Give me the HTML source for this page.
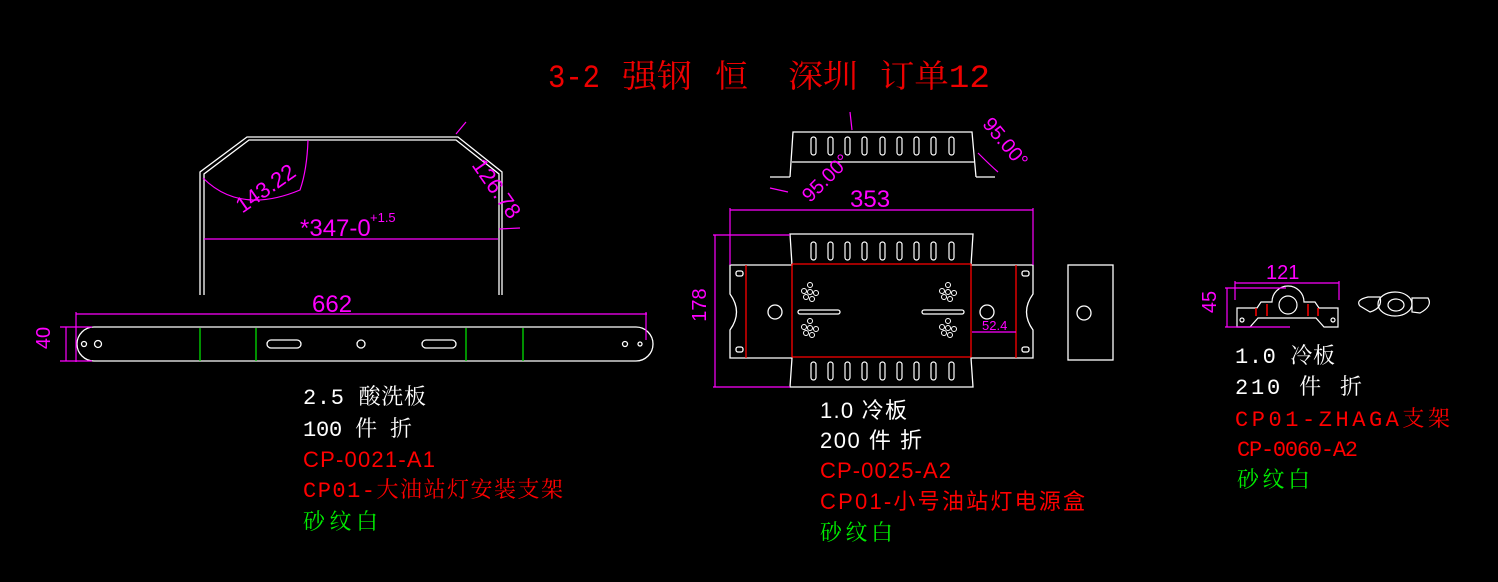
<!DOCTYPE html>
<html><head><meta charset="utf-8"><style>
html,body{margin:0;padding:0;background:#000;width:1498px;height:582px;overflow:hidden}
svg{display:block}
.s{font-family:"Liberation Mono","Noto Serif CJK SC",monospace}
.a{font-family:"Liberation Sans","Noto Sans CJK SC",sans-serif}
.d{font-family:"Liberation Sans",sans-serif;fill:#f0f}
</style></head><body>
<svg width="1498" height="582" viewBox="0 0 1498 582" xmlns="http://www.w3.org/2000/svg">
<g fill="none" stroke="#fff" stroke-width="1.3">
<polyline points="200,295 200,172 247,137 458,137 502,172 502,295"/>
<polyline points="204,295 204,174 249,140 456,140 499,174 499,295"/>
<path d="M94,327 H636 A17,17 0 0 1 636,361 H94 A17,17 0 0 1 94,327 Z"/>
<circle cx="84" cy="344" r="2.5"/><circle cx="98" cy="344" r="3.5"/>
<circle cx="361" cy="344" r="4" /><circle cx="625" cy="344" r="2.5"/><circle cx="640" cy="344" r="2"/>
<rect x="267" y="340" width="34" height="8" rx="4"/><rect x="422" y="340" width="34" height="8" rx="4"/>
</g>
<g stroke="#0d0" stroke-width="1.3"><line x1="200" y1="328" x2="200" y2="361"/><line x1="256" y1="328" x2="256" y2="361"/><line x1="466" y1="328" x2="466" y2="361"/><line x1="523" y1="328" x2="523" y2="361"/></g>
<g stroke="#f0f" stroke-width="1.2" fill="none">
<line x1="76" y1="314" x2="647" y2="314"/><line x1="76" y1="312" x2="76" y2="362"/><line x1="646" y1="312" x2="646" y2="340"/>
<line x1="60" y1="327" x2="92" y2="327"/><line x1="60" y1="361" x2="92" y2="361"/><line x1="66" y1="327" x2="66" y2="361"/>
<line x1="204" y1="239" x2="498" y2="239"/>
<path d="M203,178 Q240,215 300,190 Q307,170 308,140"/>
<line x1="499" y1="229" x2="520" y2="228"/><line x1="466" y1="122" x2="456" y2="134"/>
</g>
<text class="d" x="312" y="312" font-size="24">662</text>
<text class="d" x="56" y="344" font-size="20" transform="rotate(-90 50 344)" text-anchor="middle">40</text>
<text class="d" x="300" y="236" font-size="24">*347-0</text>
<text class="d" x="370" y="222" font-size="13">+1.5</text>
<text class="d" x="230" y="205" font-size="22" transform="rotate(-35 250 190)">143.22</text>
<text class="d" x="440" y="175" font-size="22" transform="rotate(55 465 200)">126.78</text>
<g fill="none" stroke="#fff" stroke-width="1.3">
<path d="M790,177 L793,132 H972 L976,177"/><line x1="792" y1="162" x2="974" y2="162"/><line x1="770" y1="177" x2="790" y2="177"/><line x1="976" y1="177" x2="995" y2="177"/>
<path d="M790,234 H973 L971,265 H1033 L1033,294 Q1020,312 1033,330 L1033,358 H971 L973,387 H790 L792,358 H730 L730,330 Q743,312 730,294 L730,265 H792 Z"/>
<circle cx="775" cy="312" r="7"/><circle cx="987" cy="312" r="7"/>
<rect x="736" y="271" width="7" height="5" rx="2"/><rect x="736" y="347" width="7" height="5" rx="2"/>
<rect x="1022" y="271" width="7" height="5" rx="2"/><rect x="1022" y="347" width="7" height="5" rx="2"/>
<rect x="798" y="310" width="42" height="4" rx="2"/><rect x="922" y="310" width="42" height="4" rx="2"/>
<rect x="1068" y="265" width="45" height="95"/><circle cx="1084" cy="313" r="7"/>
</g>
<g fill="none" stroke="#fff" stroke-width="1.2">
<g id="sl"><rect x="811" y="137" width="5" height="18" rx="2.5"/><rect x="828" y="137" width="5" height="18" rx="2.5"/><rect x="845" y="137" width="5" height="18" rx="2.5"/><rect x="862" y="137" width="5" height="18" rx="2.5"/><rect x="880" y="137" width="5" height="18" rx="2.5"/><rect x="897" y="137" width="5" height="18" rx="2.5"/><rect x="914" y="137" width="5" height="18" rx="2.5"/><rect x="931" y="137" width="5" height="18" rx="2.5"/><rect x="949" y="137" width="5" height="18" rx="2.5"/></g>
<use href="#sl" y="105"/><use href="#sl" y="225"/>
</g>
<g fill="none" stroke="#fff" stroke-width="1"><g id="dots"><circle cx="810" cy="285" r="2.5"/><circle cx="804" cy="291" r="2.5"/><circle cx="810" cy="292" r="2.5"/><circle cx="816" cy="293" r="2.5"/><circle cx="806" cy="297" r="2.5"/><circle cx="812" cy="299" r="2.5"/></g>
<use href="#dots" y="36"/><use href="#dots" x="138"/><use href="#dots" x="138" y="36"/></g>
<g stroke="#f00" stroke-width="1.3"><line x1="746" y1="265" x2="746" y2="358"/><line x1="792" y1="264" x2="792" y2="357"/><line x1="971" y1="264" x2="971" y2="357"/><line x1="1016" y1="265" x2="1016" y2="358"/><line x1="792" y1="264" x2="971" y2="264"/><line x1="792" y1="357" x2="971" y2="357"/></g>
<g stroke="#f0f" stroke-width="1.2" fill="none">
<line x1="730" y1="210" x2="1033" y2="210"/><line x1="730" y1="208" x2="730" y2="265"/><line x1="1033" y1="208" x2="1033" y2="265"/>
<line x1="715" y1="235" x2="715" y2="387"/><line x1="713" y1="235" x2="790" y2="235"/><line x1="713" y1="387" x2="790" y2="387"/>
<line x1="972" y1="332" x2="1016" y2="332"/>
<path d="M978,153 Q990,165 998,172"/><line x1="850" y1="112" x2="852" y2="130"/><line x1="770" y1="188" x2="788" y2="192"/>
</g>
<text class="d" x="850" y="207" font-size="24">353</text>
<text class="d" x="712" y="311" font-size="20" transform="rotate(-90 706 311)" text-anchor="middle">178</text>
<text class="d" x="982" y="330" font-size="13">52.4</text>
<text class="d" x="790" y="195" font-size="20" transform="rotate(-45 810 175)">95.00°</text>
<text class="d" x="965" y="140" font-size="20" transform="rotate(50 990 150)">95.00°</text>
<g fill="none" stroke="#fff" stroke-width="1.2">
<path d="M1237,308 V327 H1250 L1258,318 H1316 L1324,327 H1338 V308 H1319 L1315,302 H1304 A16,16 0 1 0 1272,302 H1261 L1257,308 Z"/>
<circle cx="1288" cy="305" r="9"/><circle cx="1242" cy="320" r="2"/><circle cx="1333" cy="320" r="2"/>
<ellipse cx="1395" cy="304" rx="17" ry="12"/><ellipse cx="1396" cy="305" rx="8" ry="6"/>
<path d="M1360,306 Q1355,300 1368,297 L1380,297 Q1383,308 1370,312 Z"/><path d="M1412,298 L1428,298 Q1433,306 1420,313 L1412,312 Z"/>
</g>
<g stroke="#f00" stroke-width="1.5"><line x1="1256" y1="308" x2="1256" y2="316"/><line x1="1267" y1="304" x2="1267" y2="316"/><line x1="1308" y1="304" x2="1308" y2="316"/><line x1="1318" y1="308" x2="1318" y2="316"/></g>
<g stroke="#f0f" stroke-width="1.2"><line x1="1235" y1="283" x2="1339" y2="283"/><line x1="1235" y1="281" x2="1235" y2="300"/><line x1="1339" y1="281" x2="1339" y2="300"/><line x1="1225" y1="288" x2="1286" y2="288"/><line x1="1225" y1="327" x2="1290" y2="327"/><line x1="1227" y1="288" x2="1227" y2="327"/></g>
<text class="d" x="1266" y="279" font-size="20">121</text>
<text class="d" x="1222" y="308" font-size="20" transform="rotate(-90 1216 308)" text-anchor="middle">45</text>
<g fill="#e00" font-size="32" class="s">
<text x="548" y="87" textLength="52" lengthAdjust="spacingAndGlyphs">3-2</text>
<text x="622" y="87" textLength="70" lengthAdjust="spacingAndGlyphs">强钢</text>
<text x="715" y="87" textLength="33" lengthAdjust="spacingAndGlyphs">恒</text>
<text x="788" y="87" textLength="70" lengthAdjust="spacingAndGlyphs">深圳</text>
<text x="880" y="87" textLength="110" lengthAdjust="spacingAndGlyphs">订单12</text>
</g>
<g font-size="22">
<text class="s" x="303" y="404" fill="#fff" textLength="123">2.5 酸洗板</text>
<text class="s" x="303" y="436" fill="#fff" textLength="109">100 件 折</text>
<text class="a" x="303" y="467" fill="#f00" textLength="132">CP-0021-A1</text>
<text class="s" x="303" y="497" fill="#f00" textLength="260">CP01-大油站灯安装支架</text>
<text class="s" x="303" y="529" fill="#0e0" textLength="75">砂纹白</text>
<text class="a" x="820" y="418" fill="#fff" textLength="87">1.0 冷板</text>
<text class="a" x="820" y="448" fill="#fff" textLength="102">200 件 折</text>
<text class="a" x="820" y="478" fill="#f00" textLength="131">CP-0025-A2</text>
<text class="a" x="820" y="509" fill="#f00" textLength="265">CP01-小号油站灯电源盒</text>
<text class="s" x="820" y="540" fill="#0e0" textLength="73">砂纹白</text>
<text class="s" x="1235" y="363" fill="#fff" textLength="100">1.0 冷板</text>
<text class="s" x="1235" y="394" fill="#fff" textLength="127">210 件 折</text>
<text class="s" x="1235" y="426" fill="#f00" textLength="215">CP01-ZHAGA支架</text>
<text class="s" x="1237" y="456" fill="#f00" textLength="121">CP-0060-A2</text>
<text class="s" x="1237" y="487" fill="#0e0" textLength="73">砂纹白</text>
</g>
</svg>
</body></html>
